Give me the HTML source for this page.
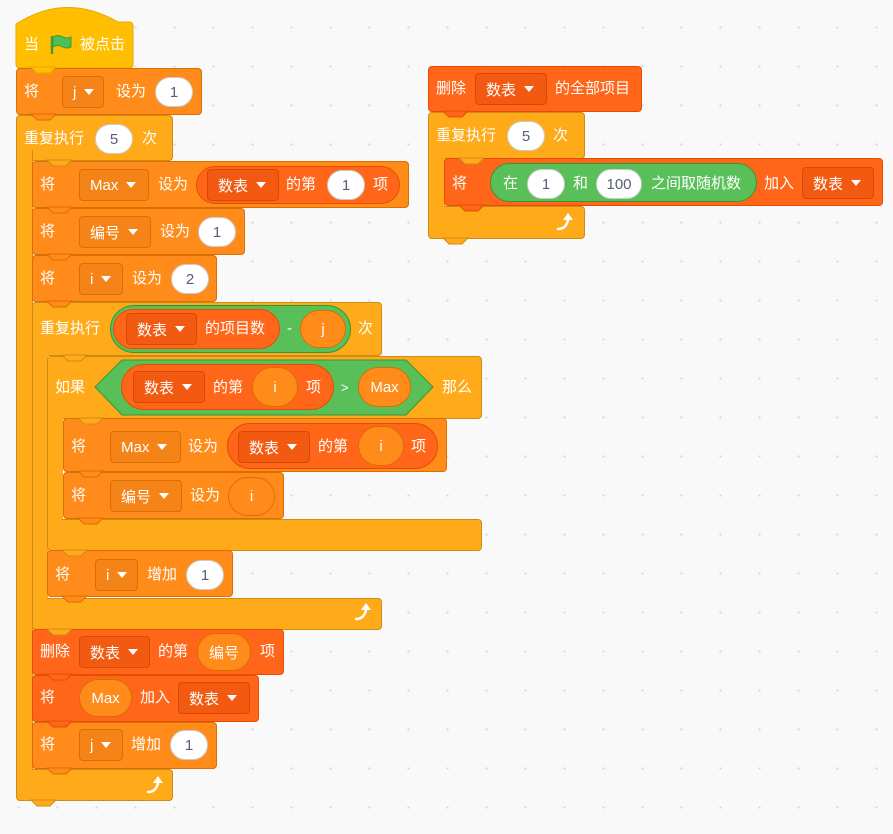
<!DOCTYPE html>
<html><head><meta charset="utf-8"><style>
html,body{margin:0;padding:0}
body{width:893px;height:834px;position:relative;overflow:hidden;background-color:#f9f9f9;
background-image:radial-gradient(circle,#d8d8d8 1px,transparent 1.3px);background-size:39px 39px;background-position:-1px 8px;
font-family:"Liberation Sans","Noto Sans CJK SC",sans-serif;}
.b{position:absolute;box-sizing:border-box;border:1px solid;border-radius:4px}
.ev{background:#FFBF00;border-color:#E6A800}
.da{background:#FF8C1A;border-color:#DB6E00}
.li{background:#FF661A;border-color:#E64D00}
.co{background:#FFAB19;border-color:#CF8B17}
.t{position:absolute;color:#fff;font-size:15px;line-height:20px;transform:translateY(-50%);white-space:nowrap}
.p{position:absolute;box-sizing:border-box;background:#fff;border:1px solid #ccc;border-radius:16px;color:#575E75;font-size:15px;display:flex;align-items:center;justify-content:center;height:30px}
.dd{position:absolute;box-sizing:border-box;border:1px solid;border-radius:4px;color:#fff;font-size:15px;height:32px;display:flex;align-items:center;padding-left:10px}
.dd::after{content:"";display:inline-block;border-left:5px solid transparent;border-right:5px solid transparent;border-top:6px solid #fff;margin-left:8px}
.dda{background:#F58418;border-color:#DB6E00}
.ddl{background:#F25A12;border-color:#D94A00}
.vr{position:absolute;box-sizing:border-box;background:#FF8C1A;border:1px solid #DB6E00;border-radius:20px;color:#fff;font-size:15px;display:flex;align-items:center;justify-content:center}
.lr{position:absolute;box-sizing:border-box;background:#FF661A;border:1px solid #E64D00;border-radius:22px}
.gr{position:absolute;box-sizing:border-box;background:#59C059;border:1px solid #389438;border-radius:24px}
svg{position:absolute;left:0;top:0}
</style></head><body>

<!-- SCRIPT 1 -->
<svg width="893" height="834" style="z-index:0">
<path d="M16 24 Q66 -8 118 22 L129 22 Q133 22 133 26 L133 64 Q133 68 129 68 L20 68 Q16 68 16 64 Z" fill="#FFBF00" stroke="#E6A800"/>
</svg>
<div class="b da" style="left:16px;top:68px;width:186px;height:47px;z-index:1"></div>
<!-- outer repeat -->
<div class="b co" style="left:16px;top:115px;width:157px;height:46px;z-index:1"></div>
<div class="b co" style="left:16px;top:150px;width:17px;height:630px;z-index:1;border-radius:0 0 0 4px"></div>
<div class="b co" style="left:16px;top:769px;width:157px;height:32px;z-index:1"></div>
<div style="position:absolute;left:17px;top:150px;width:15px;height:640px;background:#FFAB19;z-index:2"></div>

<div class="b da" style="left:32px;top:161px;width:377px;height:47px;z-index:3"></div>
<div class="b da" style="left:32px;top:208px;width:213px;height:47px;z-index:3"></div>
<div class="b da" style="left:32px;top:255px;width:185px;height:47px;z-index:3"></div>
<!-- inner repeat -->
<div class="b co" style="left:32px;top:302px;width:350px;height:54px;z-index:3"></div>
<div style="position:absolute;left:32px;top:340px;width:16px;height:270px;background:#FFAB19;border-left:1px solid #CF8B17;box-sizing:border-box;z-index:3"></div>
<div class="b co" style="left:32px;top:598px;width:350px;height:32px;z-index:3"></div>
<div style="position:absolute;left:33px;top:340px;width:14px;height:270px;background:#FFAB19;z-index:4"></div>
<!-- if -->
<div class="b co" style="left:47px;top:356px;width:435px;height:63px;z-index:5"></div>
<div style="position:absolute;left:47px;top:400px;width:16px;height:140px;background:#FFAB19;border-left:1px solid #CF8B17;box-sizing:border-box;z-index:5"></div>
<div class="b co" style="left:47px;top:519px;width:435px;height:32px;z-index:5"></div>
<div style="position:absolute;left:48px;top:400px;width:14px;height:140px;background:#FFAB19;z-index:6"></div>
<div class="b da" style="left:63px;top:418px;width:384px;height:54px;z-index:7"></div>
<div class="b da" style="left:63px;top:472px;width:221px;height:47px;z-index:7"></div>
<div class="b da" style="left:47px;top:550px;width:186px;height:47px;z-index:7"></div>

<div class="b li" style="left:32px;top:629px;width:252px;height:46px;z-index:7"></div>
<div class="b li" style="left:32px;top:675px;width:227px;height:47px;z-index:7"></div>
<div class="b da" style="left:32px;top:722px;width:185px;height:47px;z-index:7"></div>

<!-- SCRIPT 2 -->
<div class="b li" style="left:428px;top:66px;width:214px;height:46px;z-index:1"></div>
<div class="b co" style="left:428px;top:112px;width:157px;height:47px;z-index:1"></div>
<div style="position:absolute;left:428px;top:150px;width:17px;height:70px;background:#FFAB19;border-left:1px solid #CF8B17;box-sizing:border-box;z-index:1"></div>
<div class="b co" style="left:428px;top:206px;width:157px;height:33px;z-index:1"></div>
<div style="position:absolute;left:429px;top:150px;width:15px;height:70px;background:#FFAB19;z-index:2"></div>
<div class="b li" style="left:444px;top:158px;width:439px;height:48px;z-index:3"></div>

<!-- notch bumps -->
<svg width="893" height="834" style="z-index:8;pointer-events:none">
<g stroke-width="1">
<polygon points="31,67 37,73 50,73 56,67" fill="#FFBF00" stroke="#E6A800"/>
<polygon points="31,114 37,120 50,120 56,114" fill="#FF8C1A" stroke="#DB6E00"/>
<polygon points="47,160 53,166 66,166 72,160" fill="#FFAB19" stroke="#CF8B17"/>
<polygon points="47,207 53,213 66,213 72,207" fill="#FF8C1A" stroke="#DB6E00"/>
<polygon points="47,254 53,260 66,260 72,254" fill="#FF8C1A" stroke="#DB6E00"/>
<polygon points="47,301 53,307 66,307 72,301" fill="#FF8C1A" stroke="#DB6E00"/>
<polygon points="62,355 68,361 81,361 87,355" fill="#FFAB19" stroke="#CF8B17"/>
<polygon points="78,418 84,424 97,424 103,418" fill="#FFAB19" stroke="#CF8B17"/>
<polygon points="78,471 84,477 97,477 103,471" fill="#FF8C1A" stroke="#DB6E00"/>
<polygon points="78,518 84,524 97,524 103,518" fill="#FF8C1A" stroke="#DB6E00"/>
<polygon points="62,550 68,556 81,556 87,550" fill="#FFAB19" stroke="#CF8B17"/>
<polygon points="62,596 68,602 81,602 87,596" fill="#FF8C1A" stroke="#DB6E00"/>
<polygon points="47,629 53,635 66,635 72,629" fill="#FFAB19" stroke="#CF8B17"/>
<polygon points="47,674 53,680 66,680 72,674" fill="#FF661A" stroke="#E64D00"/>
<polygon points="47,721 53,727 66,727 72,721" fill="#FF661A" stroke="#E64D00"/>
<polygon points="47,768 53,774 66,774 72,768" fill="#FF8C1A" stroke="#DB6E00"/>
<polygon points="31,800 37,806 50,806 56,800" fill="#FFAB19" stroke="#CF8B17"/>
<polygon points="443,111 449,117 462,117 468,111" fill="#FF661A" stroke="#E64D00"/>
<polygon points="459,158 465,164 478,164 484,158" fill="#FFAB19" stroke="#CF8B17"/>
<polygon points="459,205 465,211 478,211 484,205" fill="#FF661A" stroke="#E64D00"/>
<polygon points="443,238 449,244 462,244 468,238" fill="#FFAB19" stroke="#CF8B17"/>
</g>
<!-- flag -->
<path d="M52 36 L52 54" stroke="#45993d" stroke-width="2.5"/>
<path d="M53 37 Q58 34 63 37 Q67 39 71 37 L71 47 Q67 49 63 47 Q58 44 53 47 Z" fill="#4CBF56" stroke="#45993d" stroke-width="1"/>
<!-- loop arrows -->
<g fill="none" stroke="#fff" stroke-width="2.5" stroke-linecap="round">
<path d="M356 619 Q364 619 366 610"/><path d="M148 792 Q156 792 158 783"/><path d="M558 229 Q566 229 568 220"/>
</g>
<g fill="#fff">
<polygon points="361,610 371,610 366,603"/><polygon points="153,783 163,783 158,776"/><polygon points="563,220 573,220 568,213"/>
</g>
<!-- hexagon -->
<polygon points="95,387 122,360 406,360 433,387 406,415 122,415" fill="#59C059" stroke="#389438"/>
</svg>

<div style="position:absolute;left:0;top:0;width:893px;height:834px;z-index:9">
<span class="t" style="left:24px;top:45px">当</span><span class="t" style="left:80px;top:45px">被点击</span>

<span class="t" style="left:24px;top:92px">将</span><div class="dd dda" style="left:62px;top:76px;width:42px">j</div><span class="t" style="left:116px;top:92px">设为</span><div class="p" style="left:155px;top:77px;width:38px">1</div>

<span class="t" style="left:24px;top:139px">重复执行</span><div class="p" style="left:95px;top:124px;width:38px">5</div><span class="t" style="left:142px;top:139px">次</span>

<span class="t" style="left:40px;top:185px">将</span><div class="dd dda" style="left:79px;top:169px;width:70px">Max</div><span class="t" style="left:158px;top:185px">设为</span>
<div class="lr" style="left:196px;top:166px;width:204px;height:38px"></div>
<div class="dd ddl" style="left:207px;top:169px;width:72px">数表</div><span class="t" style="left:286px;top:185px">的第</span><div class="p" style="left:327px;top:170px;width:38px">1</div><span class="t" style="left:373px;top:185px">项</span>

<span class="t" style="left:40px;top:232px">将</span><div class="dd dda" style="left:79px;top:216px;width:72px">编号</div><span class="t" style="left:160px;top:232px">设为</span><div class="p" style="left:198px;top:217px;width:38px">1</div>

<span class="t" style="left:40px;top:279px">将</span><div class="dd dda" style="left:79px;top:263px;width:44px">i</div><span class="t" style="left:132px;top:279px">设为</span><div class="p" style="left:171px;top:264px;width:38px">2</div>

<span class="t" style="left:40px;top:329px">重复执行</span>
<div class="gr" style="left:110px;top:305px;width:241px;height:48px"></div>
<div class="lr" style="left:113px;top:309px;width:167px;height:40px"></div>
<div class="dd ddl" style="left:126px;top:313px;width:71px">数表</div><span class="t" style="left:205px;top:329px">的项目数</span>
<span class="t" style="left:287px;top:329px">-</span><div class="vr" style="left:300px;top:310px;width:46px;height:38px">j</div>
<span class="t" style="left:358px;top:329px">次</span>

<span class="t" style="left:55px;top:388px">如果</span>
<div class="lr" style="left:121px;top:364px;width:213px;height:46px;border-radius:24px"></div>
<div class="dd ddl" style="left:133px;top:371px;width:72px">数表</div><span class="t" style="left:213px;top:388px">的第</span><div class="vr" style="left:252px;top:367px;width:46px;height:40px">i</div><span class="t" style="left:306px;top:388px">项</span>
<span class="t" style="left:341px;top:388px;font-size:13px">&gt;</span><div class="vr" style="left:358px;top:367px;width:53px;height:40px">Max</div>
<span class="t" style="left:442px;top:388px">那么</span>

<span class="t" style="left:71px;top:447px">将</span><div class="dd dda" style="left:110px;top:431px;width:71px">Max</div><span class="t" style="left:188px;top:447px">设为</span>
<div class="lr" style="left:227px;top:423px;width:211px;height:46px;border-radius:24px"></div>
<div class="dd ddl" style="left:238px;top:431px;width:72px">数表</div><span class="t" style="left:318px;top:447px">的第</span><div class="vr" style="left:358px;top:426px;width:46px;height:40px">i</div><span class="t" style="left:411px;top:447px">项</span>

<span class="t" style="left:71px;top:496px">将</span><div class="dd dda" style="left:110px;top:480px;width:72px">编号</div><span class="t" style="left:190px;top:496px">设为</span><div class="vr" style="left:228px;top:477px;width:47px;height:39px">i</div>

<span class="t" style="left:55px;top:575px">将</span><div class="dd dda" style="left:95px;top:559px;width:43px">i</div><span class="t" style="left:147px;top:575px">增加</span><div class="p" style="left:186px;top:560px;width:38px">1</div>

<span class="t" style="left:40px;top:652px">删除</span><div class="dd ddl" style="left:79px;top:636px;width:71px">数表</div><span class="t" style="left:158px;top:652px">的第</span><div class="vr" style="left:197px;top:633px;width:54px;height:38px">编号</div><span class="t" style="left:260px;top:652px">项</span>

<span class="t" style="left:40px;top:698px">将</span><div class="vr" style="left:79px;top:679px;width:53px;height:38px">Max</div><span class="t" style="left:140px;top:698px">加入</span><div class="dd ddl" style="left:178px;top:682px;width:72px">数表</div>

<span class="t" style="left:40px;top:745px">将</span><div class="dd dda" style="left:79px;top:729px;width:44px">j</div><span class="t" style="left:131px;top:745px">增加</span><div class="p" style="left:170px;top:730px;width:38px">1</div>

<!-- script 2 text -->
<span class="t" style="left:436px;top:89px">删除</span><div class="dd ddl" style="left:475px;top:73px;width:72px">数表</div><span class="t" style="left:555px;top:89px">的全部项目</span>
<span class="t" style="left:436px;top:136px">重复执行</span><div class="p" style="left:507px;top:121px;width:38px">5</div><span class="t" style="left:553px;top:136px">次</span>
<span class="t" style="left:452px;top:184px">将</span>
<div class="gr" style="left:490px;top:163px;width:267px;height:39px"></div>
<span class="t" style="left:503px;top:184px">在</span><div class="p" style="left:527px;top:169px;width:38px">1</div><span class="t" style="left:573px;top:184px">和</span><div class="p" style="left:596px;top:169px;width:46px">100</div><span class="t" style="left:651px;top:184px">之间取随机数</span>
<span class="t" style="left:764px;top:184px">加入</span><div class="dd ddl" style="left:802px;top:167px;width:72px">数表</div>
</div>
</body></html>
